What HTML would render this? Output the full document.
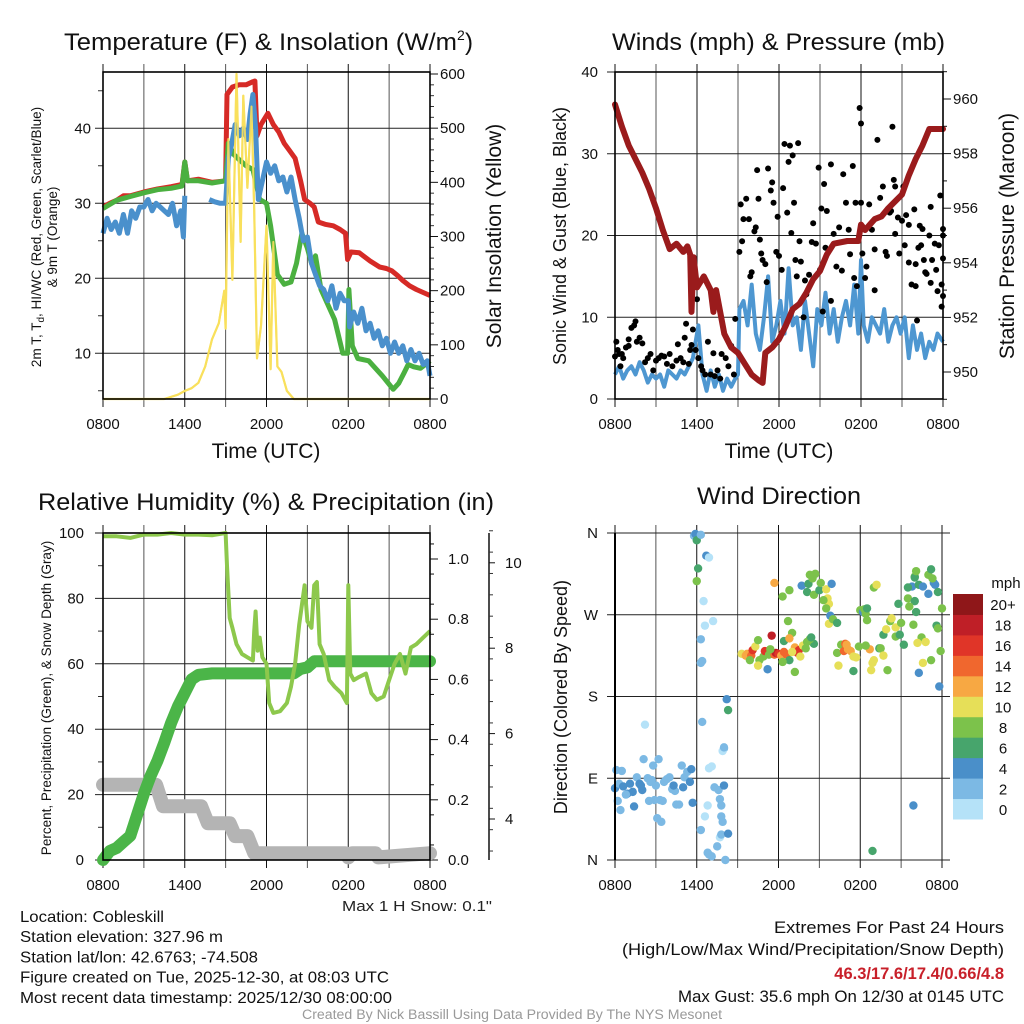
<!DOCTYPE html>
<html><head><meta charset="utf-8"><title>Cobleskill Meteogram</title>
<style>
html,body{margin:0;padding:0;background:#fff;}
svg{display:block;font-family:"Liberation Sans",Arial,sans-serif;}
</style></head>
<body>
<svg id="fig" width="1024" height="1024" viewBox="0 0 1024 1024" xmlns="http://www.w3.org/2000/svg"></svg>
<script>
// ---------- Panel 1 data: temperature & insolation ----------
const tempHours = [0,0.5,1,1.5,2,3,4,5,5.8,6,6.2,7,8,9,9.1,9.5,10,10.5,11,11.15,11.3,11.6,12.1,12.5,12.9,13.3,13.7,14.1,14.5,14.8,15.2,15.5,15.8,16.3,16.9,17.4,17.8,17.95,18.2,18.8,19.6,20.3,20.8,21.2,21.6,22,22.5,23,23.5,24];
const tempValues = [29.5,30,30.4,31,31,31.5,31.9,32.2,32.5,35.5,33,33.2,32.8,33,44.5,45.5,45.8,45.8,46.2,46.3,39,40.5,42,40.5,39.5,38,37,36,33,30.5,30,29.5,27.5,27.2,27,26.5,26,22.5,23.5,23.4,22.3,21.5,21.3,21,20.4,19.7,19,18.5,18.1,17.7];
const hiwcHours = [0,1,2,3,4,5,5.8,6,6.2,7,8,9,9.2,9.6,10,10.5,11,11.5,12,12.3,12.8,13.3,13.8,14.2,14.6,15,15.3,15.6,16,16.5,17,17.6,17.95,18.05,18.3,18.7,19.5,20.5,21.3,21.7,22.1,22.4,22.8,23.3,24];
const hiwcValues = [29.3,30.4,30.9,31.4,31.8,32,32.3,35.5,33,33,32.7,33,38,36.5,35.8,35,34.5,30.5,30,27,20.5,19.2,19.5,22,26,24,22,23,18.5,16.5,14.5,10,10,18.5,11,9.3,9,7,5.2,6,7.4,8.5,8.2,8,9];
const dewHours = [0,0.3,0.6,0.9,1.2,1.5,1.8,2.1,2.4,2.7,3,3.3,3.6,3.9,4.2,4.5,4.8,5.1,5.4,5.7,5.9,6.0,6.1,7.8,8.2,8.6,9.0,9.2,9.4,9.7,10,10.3,10.6,10.8,11.0,11.2,11.4,11.7,12,12.3,12.6,12.9,13.2,13.5,13.8,14.1,14.4,14.7,15,15.3,15.6,15.9,16.2,16.5,16.8,17.1,17.4,17.7,18,18.1,18.4,18.7,19,19.3,19.6,19.9,20.2,20.5,20.8,21.1,21.4,21.7,22,22.3,22.6,22.9,23.2,23.5,23.8,24];
const dewValues = [26,28,26.5,27.5,26,28.5,26,29,28,29.5,29.5,30.5,29,30,29.5,29,28.5,30,27,29,25.5,31,NaN,30.5,30.2,30,30,36,37.5,40.5,39,40,38.5,42,44.5,40,30.5,33,35.5,34,35,33,33.5,31.5,33.5,30.5,28,25,25.5,22,20.5,19,18.5,17,19,16,18,17,17,13.5,15.5,14,16,13,14,12,13,11,12,10,11.5,10,11,9,10.5,9,10,8.5,9,7];
const solarHours = [0,4.5,5.5,6,6.5,7,7.5,8,8.5,8.9,9.0,9.2,9.5,9.8,10.1,10.3,10.6,10.9,11.1,11.3,11.6,12.0,12.3,12.5,12.8,13.1,13.5,14,24];
const solarValues = [0,0,8,15,20,30,60,110,140,200,130,480,220,600,290,560,390,540,350,75,135,320,55,290,60,50,15,0,0];
const tempTicks = [10,20,30,40];
const solarTicks = [0,100,200,300,400,500,600];
const timeLabels = ["0800","1400","2000","0200","0800"];

// ---------- Panel 2 data: winds & pressure ----------
const presHours = [0,0.5,1,1.5,2,2.5,3,3.5,4,4.5,5,5.3,5.5,5.6,5.75,6,6.5,7,7.2,7.4,8,8.5,9,9.5,10,10.5,10.8,11,11.5,12,12.5,13,13.5,14,14.5,15,15.5,16,17,17.8,18,18.3,19,19.5,20,21,21.5,22,22.5,23,24];
const presValues = [959.8,959,958.3,957.8,957.3,956.7,956,955.2,954.5,954.7,954.4,954.6,954.3,952.2,954.2,953.1,953.5,953.0,952.2,953.0,951.4,950.9,950.7,950.3,949.9,949.7,949.6,950.7,950.9,951.2,951.7,952.3,952.5,952.9,953.4,953.7,954.3,954.7,954.8,954.8,955.4,955.2,955.6,955.7,956.0,956.5,957.2,957.8,958.3,958.9,958.9];
const windHours = [0,0.3,0.6,0.9,1.2,1.5,1.8,2.1,2.4,2.7,3,3.3,3.6,3.9,4.2,4.5,4.8,5.1,5.4,5.7,5.9,6.1,6.4,6.7,7,7.3,7.6,7.9,8.2,8.5,8.8,9.0,9.1,9.4,9.7,10,10.3,10.6,10.9,11.2,11.5,11.8,12.1,12.4,12.7,13,13.3,13.6,13.9,14.2,14.5,14.8,15.1,15.4,15.7,16,16.3,16.6,16.9,17.2,17.5,17.8,18,18.2,18.5,18.8,19.1,19.4,19.7,20,20.3,20.6,20.9,21.2,21.5,21.8,22.1,22.4,22.7,23,23.3,23.6,24];
const windValues = [3,4,2.5,3.5,4,3,4.5,3.5,2,3,2.5,3,1.5,3.5,3,2.5,3.5,3,4,5,7,9,3,1,3.5,1.5,3,1,2.5,1.5,2.5,3,11,12,9,14,8,6,10,15,7,9,12,8,16,9,10,6,12,8,4,11,9,13,8,11,7,10,12,9,14,8,17,9,7,10,9,8,11,7,9,10,8,10,5,9,6,8,5,7,6,8,7];
const gustHours = [0,0.1,0.2,0.3,0.4,0.5,0.6,0.8,1.0,1.0,1.2,1.4,1.5,1.6,1.8,2.0,2.2,2.4,2.6,2.8,3.0,3.2,3.4,3.6,3.8,4.0,4.2,4.5,4.6,4.8,5.0,5.1,5.2,5.4,5.5,5.6,5.7,5.9,6.0,6.1,6.3,6.4,6.6,6.8,7.0,7.2,7.3,7.5,7.7,7.8,8.1,8.3,8.5,8.7,8.8,9.1,9.2,9.3,9.4,9.6,9.8,9.9,10.0,10.2,10.3,10.4,10.5,10.6,10.7,10.8,11.0,11.1,11.2,11.4,11.5,11.6,11.8,11.9,12.0,12.2,12.3,12.4,12.6,12.7,12.8,12.9,13.0,13.1,13.2,13.3,13.4,13.5,13.6,13.8,13.9,14.0,14.2,14.4,14.5,14.7,14.9,15.0,15.1,15.2,15.3,15.4,15.5,15.8,15.8,16.0,16.2,16.4,16.6,16.7,16.9,17.1,17.2,17.4,17.5,17.6,17.7,17.9,18.0,18.0,18.1,18.3,18.4,18.6,18.8,19.0,19.0,19.2,19.4,19.6,19.8,19.9,20.1,20.2,20.3,20.4,20.5,20.5,20.7,20.8,21.0,21.1,21.2,21.3,21.5,21.5,21.7,21.9,22.0,22.1,22.2,22.3,22.5,22.6,22.7,22.8,23.0,23.1,23.1,23.2,23.4,23.5,23.6,23.7,23.9,23.9,24.0,24.0,23.8,24.0,24.0,22.4,22.0];
const gustValues = [5.2,7,6,5.5,4,5.5,5,6.3,6.5,7.3,8.7,9,9.5,7,7.5,6.8,4.5,5,5.5,3.5,4.7,5,5.3,5.2,4.3,5.5,4,4.7,6.7,5,4.5,7.5,9.2,4.3,6,6.6,8.5,6,12.2,5,4,3.5,3,7,3,5.6,2.8,3.5,2.5,5.5,5,4,6.5,3,9.8,18,23.8,19.3,22,24.5,22,15,15.5,20.5,21,28,24.5,19.5,17.8,17,16.5,14.3,28.2,25.5,26.5,24,18,22.3,17.5,15.8,25.8,31.2,22.8,29,31,20.3,29.8,24,17,15,31.3,19.3,16.8,10,14.5,12.8,15.2,19.2,21.5,19,28.3,15.8,23.3,10.7,26.3,18.5,23,12,28.7,20.2,16.2,21,15.7,27.5,24,20.7,17.7,28.5,14.8,24,13.8,35.6,33.7,24,17.8,14.8,16.2,23.8,20.7,18.3,13.3,31.7,24.6,26,18,17.5,22.8,23,33.3,26.8,26,20.2,22.2,17.8,21.8,26,18.8,22.5,21.3,16.7,14,23.2,13.8,9.6,18.5,21.2,20.8,17,15.5,15.3,20,14.2,23.5,17,19,15.8,13.2,18.8,11.3,14,20.8,17.2,24.9,12.6,20,18.8,16.5];
const windTicks = [0,10,20,30,40];
const presTicks = [950,952,954,956,958,960];

// ---------- Panel 3 data: RH, precipitation, snow ----------
const rhHours = [0,1,2,3,4,5,6,7,8,9,9.1,9.3,9.5,9.8,10.2,10.6,11,11.1,11.2,11.35,11.5,11.7,12,12.2,12.5,13,13.5,13.8,14.1,14.4,14.8,15,15.3,15.5,15.7,15.9,16.2,16.6,17,17.5,17.9,18.0,18.15,18.4,18.8,19.3,19.7,20.1,20.6,21,21.4,21.8,22.2,22.6,23,23.5,24];
const rhValues = [99,99,98.5,99.5,99.5,100,99.5,99.5,99.3,100,90,74,71,66,63,62,61,70,76,64,68,62,60,48,45,45.5,48,53,60,72,84,73,71,84,85,66,63,55,53,51,48,84,57,55,56,57,51,49,50,55,60,63,57,65,66,68,70];
const precipHours = [0,0.5,1,1.5,2,2.5,3,3.5,4,4.5,5,5.5,6,6.5,7,8,14,14.5,15,15.5,24];
const precipValues = [0,0.03,0.04,0.06,0.08,0.15,0.22,0.28,0.33,0.39,0.455,0.51,0.555,0.6,0.615,0.62,0.62,0.635,0.64,0.66,0.66];
const snowHours = [0,3.9,4.4,7.2,7.7,9.3,9.7,10.6,11.1,17.8,18,18.3,20,20.2,24];
const snowValues = [4.8,4.8,4.3,4.3,3.9,3.9,3.6,3.6,3.2,3.2,3.1,3.2,3.2,3.1,3.2];
const pctTicks = [0,20,40,60,80,100];
const precipTicks = ["0.0","0.2","0.4","0.6","0.8","1.0"];
const snowTicks = [4,6,8,10];

// ---------- Panel 4 data: wind direction ----------
const dirHours = [0.1,0.5,0.0,0.3,0.6,0.9,1.1,1.3,1.6,1.8,2.0,2.1,2.2,2.4,2.6,2.8,3.0,3.2,3.3,3.5,3.6,3.8,4.0,4.2,4.4,4.5,4.7,5.0,5.1,5.3,5.5,5.6,5.7,0.4,0.8,1.4,2.5,2.9,3.1,3.4,0.2,1.9,2.7,4.3,4.9,
5.8,5.9,6.0,6.1,6.0,6.3,6.7,6.9,6.5,6.6,7.2,6.3,6.4,6.4,6.9,7.1,6.8,6.3,6.8,6.9,7.1,7.5,7.7,7.8,7.9,7.7,7.8,7.3,7.6,8.0,8.2,8.3,8.0,8.3,8.1,7.8,6.6,7.9,8.0,6.3,
9.3,9.6,9.7,10.0,10.1,10.3,10.5,10.6,10.9,11.0,11.2,11.3,11.7,11.5,11.8,12.0,12.2,12.4,12.4,12.6,12.8,13.2,13.5,13.8,13.0,12.8,12.7,13.4,13.6,13.0,12.3,11.4,9.9,10.5,14.0,14.6,14.3,13.2,11.7,12.3,12.8,14.1,14.4,
13.7,14.1,14.2,14.5,14.7,14.3,14.6,15.0,15.1,15.5,15.6,15.7,15.3,15.9,15.8,15.7,15.5,16.0,16.3,16.6,16.3,16.4,16.8,16.9,17.1,17.3,17.7,17.9,17.0,17.5,17.5,18.0,18.2,18.4,18.5,18.3,18.7,18.8,18.9,19.0,18.5,19.0,19.2,19.4,19.5,19.7,19.9,20.0,20.2,20.3,20.6,20.6,20.8,20.9,21.0,21.2,21.5,21.8,22.0,21.5,21.6,22.0,22.1,22.5,22.3,22.2,22.3,22.0,22.6,21.9,23.0,23.2,23.4,23.5,23.0,23.3,23.6,23.7,23.9,24.0,23.8,22.6,22.1,23.2,22.8,21.9,18.9,23.7,18.4,19.7];
const dirDegrees = [99,98,79,84,81,73,84,75,91,84,77,111,149,90,86,104,82,111,66,65,86,89,91,78,76,61,61,80,91,97,86,100,63,55,72,59,65,66,46,42,65,82,88,82,104,
357,359,352,321,307,358,335,333,285,258,263,217,219,152,101,103,60,33,8,6,4,15,25,28,42,67,60,80,77,82,177,165,123,29,0,48,48,120,124,243,
227,225,227,225,231,235,242,220,224,230,210,226,226,247,228,227,225,229,241,226,220,234,231,236,250,244,263,228,224,229,218,232,220,214,233,238,243,207,305,290,297,240,245,
302,295,304,310,315,314,292,297,305,298,288,282,286,304,269,260,277,265,261,237,228,214,230,238,232,230,223,235,237,224,208,275,273,271,264,276,232,209,217,220,277,300,303,233,233,248,254,209,263,266,246,256,282,248,261,237,288,301,285,300,279,312,273,245,303,239,206,311,301,259,314,320,305,303,293,310,258,295,230,277,191,217,318,220,240,60,10,255,236,225];
const dirSpeeds = [2,2,4,2,4,4,4,4,2,4,4,2,0,2,2,2,2,2,2,2,2,2,2,2,2,2,2,4,2,2,4,4,4,2,2,4,2,2,2,2,2,4,2,4,2,
2,4,6,6,8,2,4,0,0,0,0,2,2,2,0,0,0,2,2,2,2,2,0,2,2,2,2,2,2,4,4,6,2,4,2,2,0,0,2,2,
10,12,12,14,16,10,8,8,8,16,4,8,14,18,18,16,12,14,6,14,6,12,16,10,8,12,8,16,10,10,8,8,8,10,8,6,8,8,12,8,8,8,6,
4,6,6,8,8,8,8,6,8,10,10,10,8,4,4,10,8,8,6,8,8,10,14,14,12,12,10,8,12,10,6,8,4,8,8,8,12,10,10,10,6,8,10,6,8,6,10,8,8,10,8,10,6,6,8,6,8,4,6,6,8,8,6,8,6,10,4,6,4,8,8,6,4,4,4,8,6,6,8,8,4,10,8,8,10,4,6,8,8,10];
const dirLabels = ["N","E","S","W","N"];
const speedBinLabels = ["0","2","4","6","8","10","12","14","16","18","20+"];
const speedBinColors = ["#b5e2f8","#7cb9e4","#4a8fc9","#47a56c","#7cc24b","#e6df58","#f7a843","#f0672e","#e03528","#bf1f27","#8f1719"];

const NS = "http://www.w3.org/2000/svg";
const svg = document.getElementById("fig");
function mk(tag, attrs, parent) {
  const e = document.createElementNS(NS, tag);
  for (const k in attrs) e.setAttribute(k, attrs[k]);
  (parent || svg).appendChild(e);
  return e;
}
function txt(s, attrs, parent) { const e = mk("text", attrs, parent); e.textContent = s; return e; }
function pathFrom(xs, ys, xf, yf) {
  let d = "", pen = false;
  const n = Math.min(xs.length, ys.length);
  for (let i = 0; i < n; i++) {
    if (isNaN(ys[i])) { pen = false; continue; }
    d += (pen ? "L" : "M") + xf(xs[i]).toFixed(1) + " " + yf(ys[i]).toFixed(1);
    pen = true;
  }
  return d;
}
function timeGrid(g, x0, x1, y0, y1, labelY) {
  for (let h = 0; h <= 24; h += 3) {
    const x = x0 + h * (x1 - x0) / 24;
    const l = mk("line", {x1: x, x2: x, y1: y0 - 8, y2: y1 + 8, stroke: (h % 6 === 0 ? "#111" : "#555"), "stroke-width": 1}, g);
    
    
  }
  timeLabels.forEach((s, i) => {
    const t = txt(s, {x: x0 + i * (x1 - x0) / 4, y: labelY, "font-size": 15, "text-anchor": "middle", fill: "#111"}, g);
    
    
  });
}
function hGrid(g, x0, x1, y, label, lx) {
  const l = mk("line", {x1: x0 - 8, x2: x1, y1: y, y2: y, stroke: "#222", "stroke-width": 1}, g);
  
  
  const t = txt(label, {x: lx, y: y + 5, "font-size": 15, "text-anchor": "end", fill: "#111"}, g);
  
  
}
function rightTick(g, x, y, label, len, lx) {
  const l = mk("line", {x1: x, x2: x + len, y1: y, y2: y, stroke: "#111", "stroke-width": 1}, g);
  
  
  if (label !== null) {
    const t = txt(label, {x: lx, y: y + 5, "font-size": 15, fill: "#111"}, g);
    
    
  }
}
function frame(g, x0, y0, x1, y1) {
  const r = mk("rect", {x: x0, y: y0, width: x1 - x0, height: y1 - y0, fill: "none", stroke: "#000", "stroke-width": 1.6}, g);
  
  
}
function rotText(s, x, y, size, parent) {
  const t = txt(s, {x: x, y: y, "font-size": size, "text-anchor": "middle", fill: "#111", transform: "rotate(-90 " + x + " " + y + ")"}, parent);
  return t;
}

// ===================== PANEL 1 =====================
(function () {
  const g = mk("g", {});
  
  
  const x0 = 103, x1 = 430, y0 = 72, y1 = 399;
  const xs = h => x0 + h * (x1 - x0) / 24;
  const ysL = v => y1 - (v - 3.9) * 7.5;
  const ysR = v => y1 - v * (y1 - 74) / 600;
  timeGrid(g, x0, x1, y0, y1, 429);
  tempTicks.forEach(v => hGrid(g, x0, x1, ysL(v), String(v), 91));
  for (let v = 5; v <= 45; v += 5) if (v % 10) { const m = mk("line", {x1: x0, x2: x0 - 5, y1: ysL(v), y2: ysL(v), stroke: "#333"}, g);   }
  solarTicks.forEach(v => rightTick(g, x1, ysR(v), String(v), 8, 440));
  for (let v = 20; v < 600; v += 20) if (v % 100) { const m = mk("line", {x1: x1, x2: x1 + 4, y1: ysR(v), y2: ysR(v), stroke: "#333"}, g);   }
  const sy = mk("path", {d: pathFrom(solarHours, solarValues, xs, ysR), fill: "none", stroke: "#f8e05c", "stroke-width": 2.2, "stroke-linejoin": "round"}, g);
  
  
  const tr = mk("path", {d: pathFrom(tempHours, tempValues, xs, ysL), fill: "none", stroke: "#d62a26", "stroke-width": 5, "stroke-linejoin": "round"}, g);
  
  
  const hw = mk("path", {d: pathFrom(hiwcHours, hiwcValues, xs, ysL), fill: "none", stroke: "#4bb040", "stroke-width": 5, "stroke-linejoin": "round"}, g);
  
  
  const dw = mk("path", {d: pathFrom(dewHours, dewValues, xs, ysL), fill: "none", stroke: "#4a90cc", "stroke-width": 5, "stroke-linejoin": "round"}, g);
  
  
  const sy2 = mk("path", {d: pathFrom(solarHours, solarValues, xs, ysR), fill: "none", stroke: "#f8e05c", "stroke-width": 2, "stroke-linejoin": "round", opacity: 0.9}, g);
  
  
  frame(g, x0, y0, x1, y1);
  const t = txt("Temperature (F) & Insolation (W/m", {x: 64, y: 50, "font-size": 24, fill: "#111", textLength: 393, lengthAdjust: "spacingAndGlyphs"}, g);
  
  
  const sup = txt("2", {x: 457, y: 40, "font-size": 14, fill: "#111"}, g);
  
  
  const cl = txt(")", {x: 465, y: 50, "font-size": 24, fill: "#111"}, g);
  
  
  const xl = txt("Time (UTC)", {x: 266, y: 458, "font-size": 21, "text-anchor": "middle", fill: "#111"}, g);
  
  
  const yl1 = txt("", {x: 41, y: 237, "font-size": 13.5, "text-anchor": "middle", fill: "#111", transform: "rotate(-90 41 237)"}, g);
  yl1.innerHTML = '2m T, T<tspan font-size="10" dy="3">d</tspan><tspan dy="-3">, HI/WC (Red, Green, Scarlet/Blue)</tspan>';
  
  
  const yl2 = rotText("& 9m T (Orange)", 57, 237, 13.5, g);
  
  
  const yr = rotText("Solar Insolation (Yellow)", 501, 236, 21, g);
  
  
})();

// ===================== PANEL 2 =====================
(function () {
  const g = mk("g", {});
  
  
  const x0 = 615, x1 = 943, y0 = 72, y1 = 399;
  const xs = h => x0 + h * (x1 - x0) / 24;
  const ysL = v => y1 - v * (y1 - y0) / 40;
  const ysR = v => 372 - (v - 950) * 27.3;
  timeGrid(g, x0, x1, y0, y1, 429);
  windTicks.forEach(v => hGrid(g, x0, x1, ysL(v), String(v), 598));
  for (let v = 949; v <= 961; v += 1) rightTick(g, x1, ysR(v), v % 2 === 0 ? String(v) : null, v % 2 === 0 ? 8 : 4, 953);
  const wl = mk("path", {d: pathFrom(windHours, windValues, xs, ysL), fill: "none", stroke: "#4e97d1", "stroke-width": 4, "stroke-linejoin": "round"}, g);
  
  
  const n = Math.min(gustHours.length, gustValues.length);
  for (let i = 0; i < n; i++) {
    const c = mk("circle", {cx: xs(gustHours[i]), cy: ysL(gustValues[i]), r: 3, fill: "#000"}, g);
    
    
  }
  const pl = mk("path", {d: pathFrom(presHours, presValues, xs, ysR), fill: "none", stroke: "#9a1b1c", "stroke-width": 6, "stroke-linejoin": "round", "stroke-linecap": "round"}, g);
  
  
  frame(g, x0, y0, x1, y1);
  const t = txt("Winds (mph) & Pressure (mb)", {x: 612, y: 50, "font-size": 24, fill: "#111", textLength: 333, lengthAdjust: "spacingAndGlyphs"}, g);
  
  
  const xl = txt("Time (UTC)", {x: 779, y: 458, "font-size": 21, "text-anchor": "middle", fill: "#111"}, g);
  
  
  const yl = rotText("Sonic Wind & Gust (Blue, Black)", 566, 236, 18, g);
  
  
  const yr = rotText("Station Pressure (Maroon)", 1014, 236, 21, g);
  
  
})();

// ===================== PANEL 3 =====================
(function () {
  const g = mk("g", {});
  
  
  const x0 = 103, x1 = 430, y0 = 533, y1 = 860;
  const xs = h => x0 + h * (x1 - x0) / 24;
  const ysL = v => y1 - v * 3.27;
  const ysP = v => y1 - v * 301;
  const ysS = v => 819 - (v - 4) * 42.7;
  timeGrid(g, x0, x1, y0, y1, 890);
  pctTicks.forEach(v => hGrid(g, x0, x1, ysL(v), String(v), 84));
  for (let v = 10; v < 100; v += 20) { const m = mk("line", {x1: x0, x2: x0 - 5, y1: ysL(v), y2: ysL(v), stroke: "#333"}, g);   }
  precipTicks.forEach(s => rightTick(g, x1, ysP(parseFloat(s)), s, 8, 448));
  for (let v = 0.05; v < 1.09; v += 0.1) rightTick(g, x1, ysP(v), null, 4, 0);
  const ax = mk("line", {x1: 489, x2: 489, y1: y0, y2: y1, stroke: "#111", "stroke-width": 1.5}, g);
  
  
  snowTicks.forEach(v => rightTick(g, 489, ysS(v), String(v), 6, 505));
  for (let v = 3.25; v < 11.2; v += 0.5) if (Math.abs(v - Math.round(v)) > 0.1) { const m = mk("line", {x1: 489, x2: 493, y1: ysS(v), y2: ysS(v), stroke: "#333"}, g);   }
  const sl = mk("path", {d: pathFrom(snowHours, snowValues, xs, ysS), fill: "none", stroke: "#b4b4b4", "stroke-width": 14, "stroke-linejoin": "round", "stroke-linecap": "round"}, g);
  
  
  const pr = mk("path", {d: pathFrom(precipHours, precipValues, xs, ysP), fill: "none", stroke: "#4bb548", "stroke-width": 12, "stroke-linejoin": "round", "stroke-linecap": "round"}, g);
  
  
  const rh = mk("path", {d: pathFrom(rhHours, rhValues, xs, ysL), fill: "none", stroke: "#8dc84c", "stroke-width": 4, "stroke-linejoin": "round"}, g);
  
  
  frame(g, x0, y0, x1, y1);
  const t = txt("Relative Humidity (%) & Precipitation (in)", {x: 38, y: 510, "font-size": 24, fill: "#111", textLength: 456, lengthAdjust: "spacingAndGlyphs"}, g);
  
  
  const yl = rotText("Percent, Precipitation (Green), & Snow Depth (Gray)", 51, 698, 13.5, g);
  
  
  const ms = txt('Max 1 H Snow: 0.1"', {x: 342, y: 911, "font-size": 15, fill: "#222", textLength: 150, lengthAdjust: "spacingAndGlyphs"}, g);
  
  
})();

// ===================== PANEL 4 =====================
(function () {
  const g = mk("g", {});
  
  
  const x0 = 615, x1 = 942, y0 = 533, y1 = 860;
  const xs = h => x0 + h * (x1 - x0) / 24;
  const ys = d => y1 - d * (y1 - y0) / 360;
  timeGrid(g, x0, x1, y0, y1, 890);
  dirLabels.forEach((s, i) => hGrid(g, x0, x1 + 8, ys(i * 90), s, 598));
  const n = Math.min(dirHours.length, dirDegrees.length, dirSpeeds.length);
  for (let i = 0; i < n; i++) {
    const bin = Math.min(10, Math.floor(dirSpeeds[i] / 2));
    const c = mk("circle", {cx: xs(dirHours[i]), cy: ys(dirDegrees[i]), r: 4.2, fill: speedBinColors[bin]}, g);
    
    
  }
  const l = mk("line", {x1: x0, x2: x0, y1: y0, y2: y1, stroke: "#000", "stroke-width": 2}, g);
  
  
  const t = txt("Wind Direction", {x: 697, y: 504, "font-size": 24, fill: "#111", textLength: 164, lengthAdjust: "spacingAndGlyphs"}, g);
  
  
  const yl = rotText("Direction (Colored By Speed)", 567, 697, 18, g);
  
  
  const cb = mk("g", {}, g);
  
  
  const by0 = 594, by1 = 819, bh = (by1 - by0) / speedBinLabels.length;
  speedBinLabels.forEach((s, i) => {
    const yTop = by1 - (i + 1) * bh;
    const r = mk("rect", {x: 953, y: yTop, width: 30, height: bh + 0.5, fill: speedBinColors[i]}, cb);
    
    
    const lt = txt(s, {x: 1003, y: yTop + bh / 2 + 6, "font-size": 15, "text-anchor": "middle", fill: "#111"}, cb);
    
    
  });
  const u = txt("mph", {x: 1006, y: 588, "font-size": 15, "text-anchor": "middle", fill: "#111"}, cb);
  
  
})();

// ===================== FOOTER =====================
(function () {
  const g = mk("g", {});
  
  
  const left = ["Location: Cobleskill", "Station elevation: 327.96 m", "Station lat/lon: 42.6763; -74.508", "Figure created on Tue, 2025-12-30, at 08:03 UTC", "Most recent data timestamp: 2025/12/30 08:00:00"];
  const leftWidths = [144, 203, 238, 369, 372];
  left.forEach((s, i) => {
    const t = txt(s, {x: 20, y: 922 + i * 20.2, "font-size": 16, fill: "#111", textLength: leftWidths[i], lengthAdjust: "spacingAndGlyphs"}, g);
    
    
  });
  const r1 = txt("Extremes For Past 24 Hours", {x: 774, y: 933, "font-size": 16.5, fill: "#111", textLength: 230, lengthAdjust: "spacingAndGlyphs"}, g);
  
  
  const r2 = txt("(High/Low/Max Wind/Precipitation/Snow Depth)", {x: 622, y: 955, "font-size": 16.5, fill: "#111", textLength: 382, lengthAdjust: "spacingAndGlyphs"}, g);
  
  
  const r3 = txt("46.3/17.6/17.4/0.66/4.8", {x: 1004, y: 979, "font-size": 16.5, "font-weight": "bold", "text-anchor": "end", fill: "#c8202a"}, g);
  
  
  const r4 = txt("Max Gust: 35.6 mph On 12/30 at 0145 UTC", {x: 678, y: 1002, "font-size": 16.5, fill: "#111", textLength: 326, lengthAdjust: "spacingAndGlyphs"}, g);
  
  
  const c = txt("Created By Nick Bassill Using Data Provided By The NYS Mesonet", {x: 302, y: 1019, "font-size": 13.5, fill: "#999", textLength: 420, lengthAdjust: "spacingAndGlyphs"}, g);
  
  
})();
</script>
</body></html>
